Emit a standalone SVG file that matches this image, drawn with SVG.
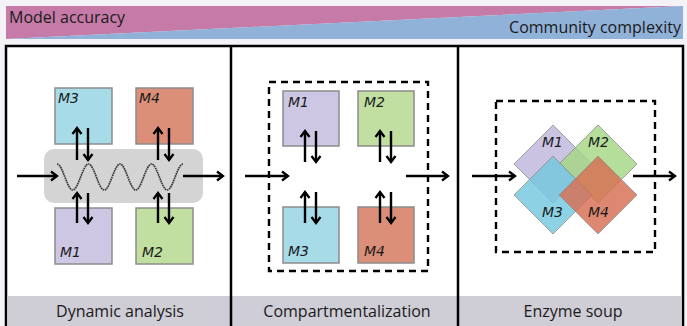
<svg xmlns="http://www.w3.org/2000/svg" width="687" height="326" viewBox="0 0 687 326">
<defs>
<style>
.lbl{font-family:"Open Sans","Liberation Sans",sans-serif;fill:#1a1a1a}
.m{font-family:"DejaVu Sans",Verdana,sans-serif;font-style:italic;font-size:14px;fill:#1a1a1a}
.box{stroke:#8c8c8c;stroke-width:1.5}
.arr{stroke:#000;stroke-width:2.4;fill:none;marker-end:url(#ah)}
.dash{fill:none;stroke:#000;stroke-width:2.4;stroke-dasharray:7 5}
.dia{stroke:#8c8c8c;stroke-width:1;opacity:0.82}
</style>
<marker id="ah" markerUnits="userSpaceOnUse" markerWidth="12" markerHeight="12" refX="8" refY="6" orient="auto">
<path d="M2,1.5 L8,6 L2,10.5" fill="none" stroke="#000" stroke-width="2.3"/>
</marker>
</defs>
<rect width="687" height="326" fill="#f3f2f7"/>
<g id="banner">
<polygon points="6,6 683,6 6,39" fill="#c67aa7"/>
<polygon points="683,6 683,39 6,39" fill="#90b1d8"/>
<text class="lbl" x="9" y="23" font-size="16">Model accuracy</text>
<text class="lbl" x="681" y="33" font-size="16" text-anchor="end">Community complexity</text>
</g>
<g id="panels">
<rect x="6" y="46" width="677" height="290" fill="#fff" stroke="#000" stroke-width="2.5"/>
<rect x="7.5" y="296" width="674" height="30" fill="#cfcdd5"/>
<line x1="231" y1="46" x2="231" y2="326" stroke="#000" stroke-width="2.5"/>
<line x1="458" y1="46" x2="458" y2="326" stroke="#000" stroke-width="2.5"/>
<text class="lbl" x="120" y="317" font-size="16" text-anchor="middle">Dynamic analysis</text>
<text class="lbl" x="347" y="317" font-size="16" text-anchor="middle">Compartmentalization</text>
<text class="lbl" x="573" y="317" font-size="16" text-anchor="middle">Enzyme soup</text>
</g>
<g id="dynamic">
<rect x="44" y="149" width="159" height="54" rx="10" fill="#d4d4d4"/>
<path d="M57,164 C62.67,164 67.08,190 72.75,190 S82.83,164 88.5,164 S98.58,190 104.25,190 S114.33,164 120,164 S130.08,190 135.75,190 S145.83,164 151.5,164 S161.58,190 167.25,190 S177.33,164 183,164" fill="none" stroke="#333" stroke-width="1.7" stroke-dasharray="1.6 0.7"/>
<g id="d-M3"><rect class="box" x="55" y="88" width="57" height="56" fill="#a7dbe8"/><text class="m" x="58" y="103">M3</text></g>
<g id="d-M4"><rect class="box" x="136" y="88" width="57" height="56" fill="#db8f79"/><text class="m" x="139" y="103">M4</text></g>
<g id="d-M1"><rect class="box" x="55" y="208" width="57" height="56" fill="#cdc7e3"/><text class="m" x="60" y="257">M1</text></g>
<g id="d-M2"><rect class="box" x="136" y="208" width="57" height="56" fill="#c1dfa1"/><text class="m" x="142" y="257">M2</text></g>
</g>
<g id="compart">
<rect class="dash" x="269" y="82" width="159" height="189"/>
<g id="c-M1"><rect class="box" x="283" y="91" width="56" height="55" fill="#cdc7e3"/><text class="m" x="288" y="107">M1</text></g>
<g id="c-M2"><rect class="box" x="358" y="91" width="56" height="55" fill="#c1dfa1"/><text class="m" x="364" y="107">M2</text></g>
<g id="c-M3"><rect class="box" x="283" y="207" width="56" height="56" fill="#a7dbe8"/><text class="m" x="288" y="256">M3</text></g>
<g id="c-M4"><rect class="box" x="358" y="207" width="56" height="56" fill="#db8f79"/><text class="m" x="364" y="256">M4</text></g>
</g>
<g id="soup">
<rect class="dash" x="496" y="101" width="159" height="151"/>
<g id="s-M1"><polygon class="dia" points="553,125 592,164 553,203 514,164" fill="#c0b6dc"/></g>
<g id="s-M2"><polygon class="dia" points="598,125 637,164 598,203 559,164" fill="#a6d786"/></g>
<g id="s-M3"><polygon class="dia" points="553,156 592,195 553,234 514,195" fill="#74c9df"/></g>
<g id="s-M4"><polygon class="dia" points="598,156 637,195 598,234 559,195" fill="#d86f52"/></g>
<text class="m" x="542" y="147">M1</text>
<text class="m" x="588" y="147">M2</text>
<text class="m" x="542" y="217">M3</text>
<text class="m" x="588" y="217">M4</text>
</g>
<g id="connectors">
<line class="arr" x1="17" y1="176" x2="57" y2="176"/>
<line class="arr" x1="183" y1="176" x2="223" y2="176"/>
<line class="arr" x1="77" y1="160" x2="77" y2="128"/>
<line class="arr" x1="88" y1="128" x2="88" y2="160"/>
<line class="arr" x1="158" y1="160" x2="158" y2="128"/>
<line class="arr" x1="169" y1="128" x2="169" y2="160"/>
<line class="arr" x1="77" y1="223" x2="77" y2="193"/>
<line class="arr" x1="88" y1="193" x2="88" y2="223"/>
<line class="arr" x1="158" y1="223" x2="158" y2="193"/>
<line class="arr" x1="169" y1="193" x2="169" y2="223"/>
<line class="arr" x1="245" y1="176" x2="288" y2="176"/>
<line class="arr" x1="406" y1="176" x2="448" y2="176"/>
<line class="arr" x1="305" y1="162" x2="305" y2="131"/>
<line class="arr" x1="316" y1="131" x2="316" y2="162"/>
<line class="arr" x1="380" y1="162" x2="380" y2="131"/>
<line class="arr" x1="391" y1="131" x2="391" y2="162"/>
<line class="arr" x1="305" y1="223" x2="305" y2="192"/>
<line class="arr" x1="316" y1="192" x2="316" y2="223"/>
<line class="arr" x1="380" y1="223" x2="380" y2="192"/>
<line class="arr" x1="391" y1="192" x2="391" y2="223"/>
<line class="arr" x1="472" y1="176" x2="515" y2="176"/>
<line class="arr" x1="633" y1="176" x2="675" y2="176"/>
</g>
</svg>
